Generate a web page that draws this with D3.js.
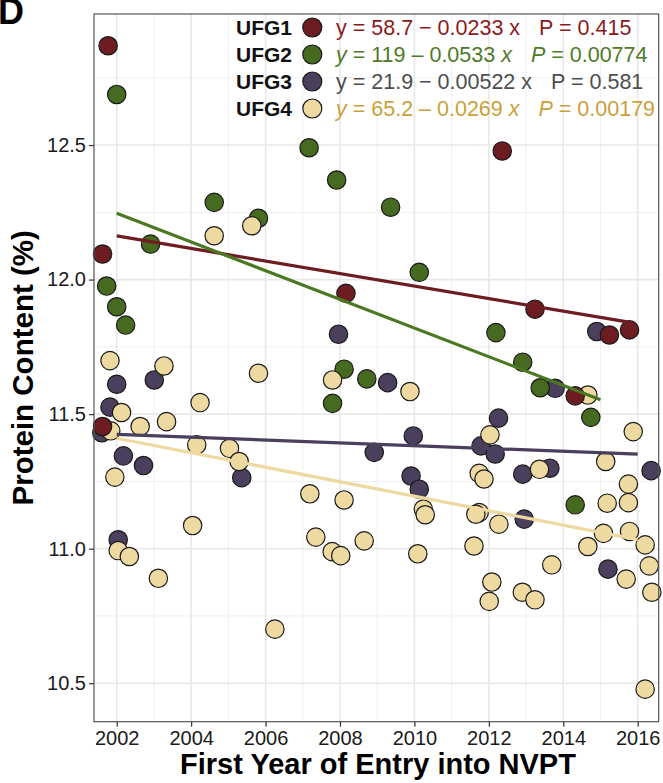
<!DOCTYPE html>
<html lang="en">
<head>
<meta charset="UTF-8" />
<title>Protein content by first year of entry into NVPT</title>
<style>
  body { margin: 0; background: #fff; }
  svg { display: block; font-family: "Liberation Sans", Arial, sans-serif; }
</style>
</head>
<body>
<div id="stage"></div>
<script src="https://d3js.org/d3.v7.min.js"></script>
<script>
// groups and their colours
const groups = ['UFG1', 'UFG2', 'UFG3', 'UFG4'];
const fillColors = ['#6d1c21', '#466b20', '#4a3f5c', '#eed9a1'];
const lineColors = ['#6d1c21', '#4b7822', '#4a3f5c', '#eed9a1'];
const textColors = ['#8b1a1a', '#4f7a28', '#4d4d4d', '#c9a13a'];

// points: [year, protein %]
const ufg1 = [[2001.77, 12.869], [2001.62, 12.095], [2008.16, 11.949], [2012.36, 12.478],
  [2013.24, 11.890], [2015.24, 11.794], [2015.78, 11.813], [2014.32, 11.568], [2001.62, 11.454]];
const ufg2 = [[2002.00, 12.688], [2007.17, 12.490], [2007.91, 12.370], [2004.62, 12.287],
  [2005.81, 12.228], [2002.91, 12.132], [2001.73, 11.976], [2002.00, 11.899], [2002.24, 11.831],
  [2009.36, 12.269], [2010.13, 12.027], [2012.19, 11.803], [2012.91, 11.693], [2013.38, 11.598],
  [2014.74, 11.488], [2008.11, 11.667], [2007.80, 11.540], [2008.72, 11.631], [2014.32, 11.163]];
const ufg3 = [[2007.96, 11.797], [2014.90, 11.807], [2013.78, 11.596], [2009.28, 11.617],
  [2012.26, 11.485], [2011.79, 11.382], [2012.17, 11.352], [2009.97, 11.419], [2008.92, 11.358],
  [2016.36, 11.290], [2013.64, 11.299], [2012.91, 11.277], [2009.91, 11.270], [2010.13, 11.221],
  [2012.95, 11.110], [2002.00, 11.611], [2003.01, 11.627], [2001.82, 11.526], [2001.60, 11.431],
  [2005.36, 11.264], [2002.18, 11.345], [2002.72, 11.309], [2002.04, 11.033], [2015.20, 10.924]];
const ufg4 = [[2004.62, 12.163], [2005.63, 12.200], [2014.66, 11.571], [2007.80, 11.627],
  [2009.88, 11.584], [2012.03, 11.423], [2015.88, 11.435], [2015.14, 11.324], [2013.36, 11.295],
  [2011.74, 11.280], [2011.87, 11.259], [2015.75, 11.240], [2008.11, 11.181], [2010.24, 11.147],
  [2010.29, 11.126], [2015.18, 11.169], [2015.75, 11.171], [2011.74, 11.134], [2011.65, 11.128],
  [2012.27, 11.091], [2015.08, 11.057], [2015.78, 11.064], [2008.65, 11.029], [2011.60, 11.010],
  [2014.66, 11.008], [2016.20, 11.014], [2010.09, 10.981], [2001.82, 11.699], [2003.27, 11.679],
  [2005.81, 11.652], [2004.24, 11.543], [2002.13, 11.506], [2003.34, 11.472], [2002.63, 11.454],
  [2001.84, 11.438], [2004.15, 11.386], [2005.03, 11.373], [2005.29, 11.324], [2001.95, 11.266],
  [2007.19, 11.204], [2004.04, 11.086], [2007.35, 11.043], [2002.04, 10.993], [2002.34, 10.971],
  [2003.12, 10.890], [2006.25, 10.701], [2007.79, 10.989], [2008.02, 10.974], [2012.08, 10.876],
  [2012.01, 10.804], [2012.90, 10.838], [2013.24, 10.810], [2013.69, 10.940], [2015.69, 10.887],
  [2016.31, 10.936], [2016.38, 10.838], [2016.20, 10.478]];
const points = [ufg1, ufg2, ufg3, ufg4];

// linear fits: intercept, slope, first and last year of the line
const fitIntercept = [58.809, 118.953, 21.875, 65.264];
const fitSlope = [-0.0233, -0.0533, -0.00522, -0.0269];
const fitFrom = [2002, 2002, 2002, 2002];
const fitTo = [2015.84, 2015.0, 2016.0, 2016.0];

// legend texts
const eqText = ['y = 58.7 − 0.0233 x', 'y = 119 – 0.0533 x', 'y = 21.9 − 0.00522 x', 'y = 65.2 – 0.0269 x'];
const pText = ['P = 0.415', 'P = 0.00774', 'P = 0.581', 'P = 0.00179'];
const eqItalic = [false, true, false, true];

// axis ticks
const xTicks = [2002, 2004, 2006, 2008, 2010, 2012, 2014, 2016];
const xMinor = [2001, 2003, 2005, 2007, 2009, 2011, 2013, 2015];
const yTicks = [10.5, 11.0, 11.5, 12.0, 12.5];
const yMinor = [10.75, 11.25, 11.75, 12.25, 12.75];

const W = 663, H = 783;
const pLeft = 94, pRight = 658.7, pTop = 14, pBottom = 721.7;

const svg = d3.select('#stage').append('svg').attr('width', W).attr('height', H);
svg.append('rect').attr('width', W).attr('height', H).attr('fill', '#fff');

const x = d3.scaleLinear().domain([2001.39, 2016.564]).range([pLeft, pRight]);
const y = d3.scaleLinear().domain([10.357, 12.987]).range([pBottom, pTop]);

// grid
const grid = svg.append('g');
grid.selectAll('.vmin').data(xMinor.filter(d => x(d) > pLeft)).join('line')
  .attr('x1', d => x(d)).attr('x2', d => x(d)).attr('y1', pTop).attr('y2', pBottom)
  .attr('stroke', '#f0f0f0').attr('stroke-width', 1);
grid.selectAll('.hmin').data(yMinor).join('line')
  .attr('y1', d => y(d)).attr('y2', d => y(d)).attr('x1', pLeft).attr('x2', pRight)
  .attr('stroke', '#f0f0f0').attr('stroke-width', 1);
grid.selectAll('.vmaj').data(xTicks).join('line')
  .attr('x1', d => x(d)).attr('x2', d => x(d)).attr('y1', pTop).attr('y2', pBottom)
  .attr('stroke', '#e8e8e8').attr('stroke-width', 1.6);
grid.selectAll('.hmaj').data(yTicks).join('line')
  .attr('y1', d => y(d)).attr('y2', d => y(d)).attr('x1', pLeft).attr('x2', pRight)
  .attr('stroke', '#e8e8e8').attr('stroke-width', 1.6);

// points
const drawOrder = [2, 1, 3, 0];
drawOrder.forEach(g => {
  svg.append('g').selectAll('circle').data(points[g]).join('circle')
    .attr('cx', d => x(d[0])).attr('cy', d => y(d[1])).attr('r', 9.2)
    .attr('fill', fillColors[g]).attr('stroke', '#1a1a1a').attr('stroke-width', 1.2);
});

// fit lines
const line = d3.line().x(d => x(d[0])).y(d => y(d[1]));
groups.forEach((name, g) => {
  const ends = [fitFrom[g], fitTo[g]].map(t => [t, fitIntercept[g] + fitSlope[g] * t]);
  svg.append('path').attr('d', line(ends)).attr('fill', 'none')
    .attr('stroke', lineColors[g]).attr('stroke-width', 3.2);
});

// panel border
svg.append('rect').attr('x', pLeft).attr('y', pTop)
  .attr('width', pRight - pLeft).attr('height', pBottom - pTop)
  .attr('fill', 'none').attr('stroke', '#555').attr('stroke-width', 1.2);

// axes
const yAxis = svg.append('g').attr('transform', `translate(${pLeft},0)`)
  .call(d3.axisLeft(y).tickValues(yTicks).tickSize(5).tickPadding(3).tickFormat(d3.format('.1f')));
const xAxis = svg.append('g').attr('transform', `translate(0,${pBottom})`)
  .call(d3.axisBottom(x).tickValues(xTicks).tickSize(5).tickPadding(4).tickFormat(d3.format('d')));
[yAxis, xAxis].forEach(a => {
  a.select('.domain').remove();
  a.selectAll('.tick line').attr('stroke', '#333').attr('stroke-width', 1.2);
  a.selectAll('.tick text').attr('fill', '#1a1a1a').style('font-size', '20px')
    .style('font-family', '"Liberation Sans", Arial, sans-serif');
});

// axis titles
svg.append('text').attr('x', 378).attr('y', 774)
  .attr('text-anchor', 'middle').attr('font-weight', 'bold').attr('font-size', 29)
  .text('First Year of Entry into NVPT');
svg.append('text').attr('transform', `translate(33,${(pTop + pBottom) / 2}) rotate(-90)`)
  .attr('text-anchor', 'middle').attr('font-weight', 'bold').attr('font-size', 29.5)
  .text('Protein Content (%)');

// panel letter
svg.append('text').attr('x', -2).attr('y', 24).attr('font-weight', 'bold')
  .attr('font-size', 36).text('D');

// legend
const rowY = [35, 62, 89, 116];
groups.forEach((name, g) => {
  const row = svg.append('g');
  row.append('text').attr('x', 292).attr('y', rowY[g]).attr('text-anchor', 'end')
    .attr('font-weight', 'bold').attr('font-size', 21).attr('fill', '#111').text(name);
  row.append('circle').attr('cx', 312.3).attr('cy', rowY[g] - 7.5).attr('r', 9.5)
    .attr('fill', fillColors[g]).attr('stroke', '#1a1a1a').attr('stroke-width', 1.2);
  const addText = (str, x0) => {
    const t = row.append('text').attr('x', x0).attr('y', rowY[g])
      .attr('font-size', 21.5).attr('fill', textColors[g]);
    str.split(/([yxP])/).filter(s => s.length).forEach(s => {
      t.append('tspan').attr('font-style', eqItalic[g] && /^[yxP]$/.test(s) ? 'italic' : 'normal')
        .text(s);
    });
    return t;
  };
  const eq = addText(eqText[g], 336);
  const w = eq.node().getComputedTextLength();
  addText(pText[g], 336 + w + 19);
});
</script>
</body>
</html>
